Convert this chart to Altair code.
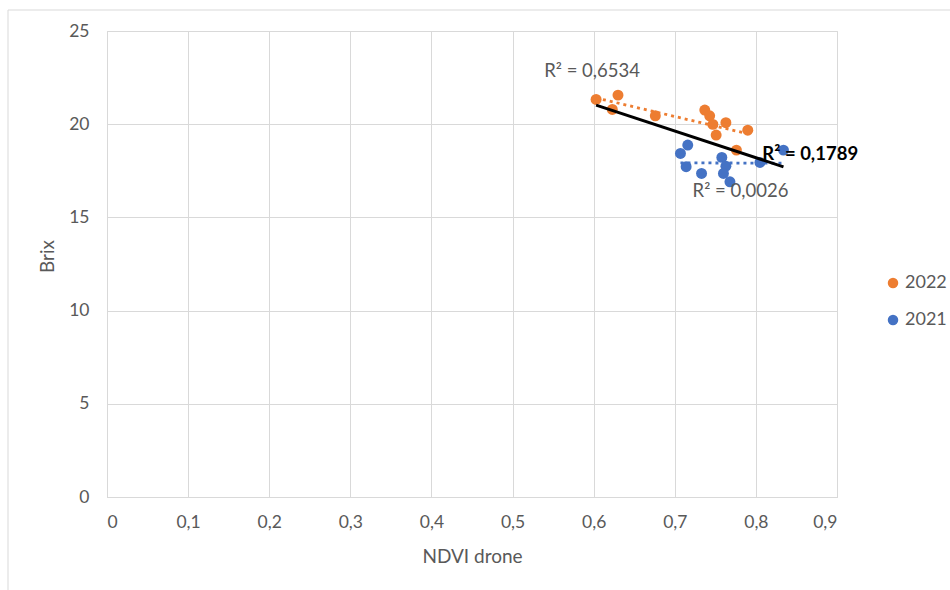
import altair as alt
import pandas as pd

# ---- data ----
ndvi_2022 = [0.603, 0.630, 0.623, 0.676, 0.737, 0.743, 0.747, 0.763, 0.751, 0.790, 0.776]
brix_2022 = [21.33, 21.56, 20.79, 20.45, 20.76, 20.45, 19.99, 20.08, 19.42, 19.68, 18.61]

ndvi_2021 = [0.716, 0.707, 0.714, 0.733, 0.758, 0.763, 0.760, 0.768, 0.805, 0.834]
brix_2021 = [18.88, 18.43, 17.72, 17.36, 18.22, 17.75, 17.36, 16.91, 17.95, 18.61]

series_names = ["2022", "2021"]
series_colors = ["#ED7D31", "#4472C4"]

x_ticks = [0, 0.1, 0.2, 0.3, 0.4, 0.5, 0.6, 0.7, 0.8, 0.9]
y_ticks = [0, 5, 10, 15, 20, 25]

r2_texts = ["R² = 0,6534", "R² = 0,0026", "R² = 0,1789"]
r2_ndvi = [0.598, 0.781, 0.867]
r2_brix = [22.86, 16.41, 18.38]
r2_kind = ["2022", "2021", "all"]

df = pd.DataFrame({
    "ndvi": ndvi_2022 + ndvi_2021,
    "brix": brix_2022 + brix_2021,
    "year": ["2022"] * len(ndvi_2022) + ["2021"] * len(ndvi_2021),
})
labels = pd.DataFrame({"ndvi": r2_ndvi, "brix": r2_brix, "text": r2_texts, "kind": r2_kind})

FONT = "Lato"
GRAY = "#595959"
GRID = "#d9d9d9"

x_enc = alt.X(
    "ndvi:Q",
    scale=alt.Scale(domain=[0, 0.9], nice=False, zero=False),
    axis=alt.Axis(
        values=x_ticks,
        labelExpr="datum.value == 0 ? '0' : replace(format(datum.value, '.1f'), '.', ',')",
        title="NDVI drone",
        grid=True, gridColor=GRID, gridWidth=1,
        domain=True, domainColor=GRID, domainWidth=1,
        ticks=False,
        labelColor=GRAY, labelFontSize=17.5, labelPadding=16, labelFont=FONT,
        titleColor=GRAY, titleFontSize=19, titleFont=FONT, titleFontWeight="normal",
        titleX=365, titleY=59, titleBaseline="middle", titleAlign="center",
    ),
)
y_enc = alt.Y(
    "brix:Q",
    scale=alt.Scale(domain=[0, 25], nice=False, zero=False),
    axis=alt.Axis(
        values=y_ticks,
        title="Brix",
        grid=True, gridColor=GRID, gridWidth=1,
        domain=True, domainColor=GRID, domainWidth=1,
        ticks=False,
        labelColor=GRAY, labelFontSize=17.5, labelPadding=18, labelFont=FONT,
        titleColor=GRAY, titleFontSize=19, titleFont=FONT, titleFontWeight="normal",
        titleX=-60, titleY=225, titleBaseline="middle", titleAlign="center", titleAngle=270,
    ),
)

base = alt.Chart(df)

frame = alt.Chart(pd.DataFrame({"a": [0]})).mark_rect(
    fill=None, stroke=GRID, strokeWidth=1
).encode(
    x=alt.value(-99), x2=alt.value(900), y=alt.value(-21), y2=alt.value(600)
)

points = base.mark_circle(size=120, opacity=1).encode(
    x=x_enc,
    y=y_enc,
    color=alt.Color(
        "year:N",
        scale=alt.Scale(domain=series_names, range=series_colors),
        legend=alt.Legend(
            title=None, orient="none", legendX=777, legendY=243,
            symbolType="circle", symbolSize=110, symbolOpacity=1,
            labelFontSize=18, labelColor=GRAY, labelFont=FONT,
            labelOffset=3, rowPadding=19, padding=0,
        ),
    ),
)

trend_2022 = base.transform_filter("datum.year == '2022'").transform_regression(
    "ndvi", "brix"
).mark_line(color=series_colors[0], strokeWidth=2.8, strokeDash=[3, 4]).encode(
    x="ndvi:Q", y="brix:Q"
)
trend_2021 = base.transform_filter("datum.year == '2021'").transform_regression(
    "ndvi", "brix"
).mark_line(color=series_colors[1], strokeWidth=2.8, strokeDash=[3, 4]).encode(
    x="ndvi:Q", y="brix:Q"
)
trend_all = base.transform_regression("ndvi", "brix").mark_line(
    color="black", strokeWidth=3
).encode(x="ndvi:Q", y="brix:Q")

lab_gray = alt.Chart(labels).transform_filter("datum.kind != 'all'").mark_text(
    fontSize=18.5, color=GRAY, font=FONT, align="center", baseline="middle"
).encode(x="ndvi:Q", y="brix:Q", text="text:N")
lab_bold = alt.Chart(labels).transform_filter("datum.kind == 'all'").mark_text(
    fontSize=18.5, color="black", font=FONT, fontWeight="bold", align="center", baseline="middle"
).encode(x="ndvi:Q", y="brix:Q", text="text:N")

chart = alt.layer(
    frame, points, trend_2022, trend_2021, trend_all, lab_gray, lab_bold
).properties(
    width=730, height=466,
    autosize=alt.AutoSizeParams(type="none"),
    padding={"left": 107, "top": 31, "right": 113, "bottom": 93},
    background="white",
).configure_view(stroke=None).configure(font=FONT)

chart.save("out.html", embed_options={"renderer": "svg", "actions": False})
